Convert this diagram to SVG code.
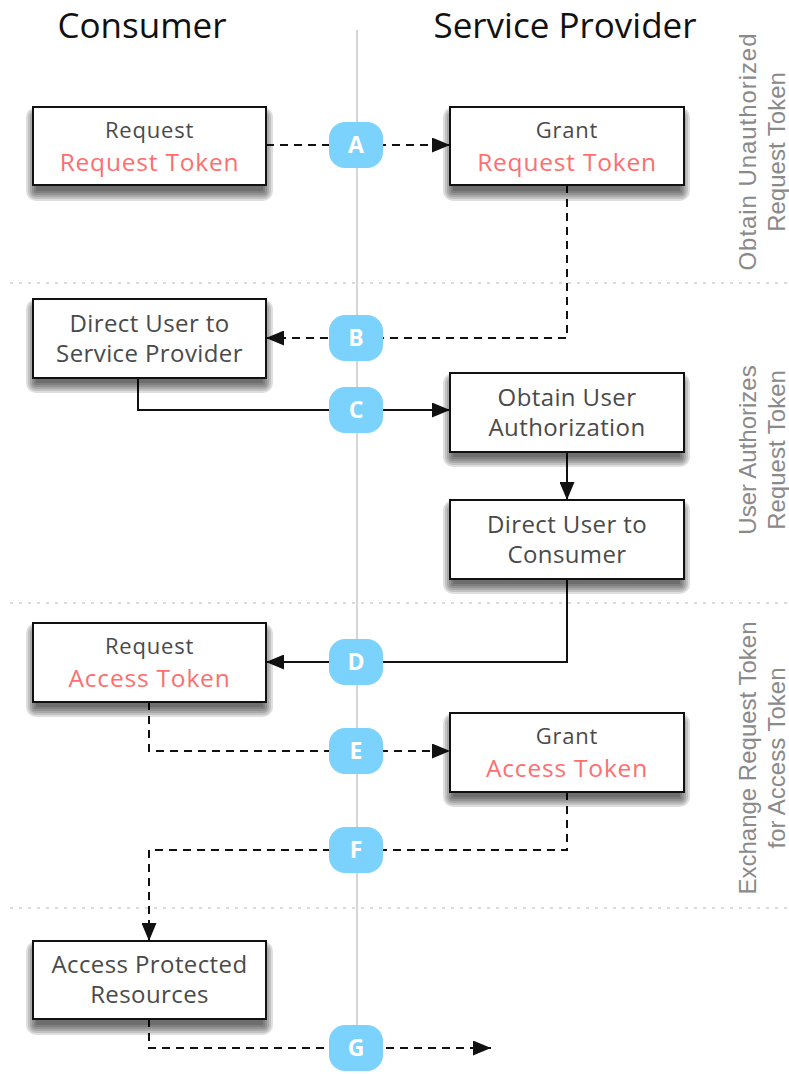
<svg xmlns="http://www.w3.org/2000/svg" xmlns:xlink="http://www.w3.org/1999/xlink" width="789" height="1074" viewBox="0 0 789 1074">
  <style>
    .hdr { font-family: "Open Sans", "Liberation Sans", sans-serif; font-size: 35px; fill: #111; text-anchor: middle; }
    .box { fill: #fff; stroke: #111; stroke-width: 2; }
    .t { font-family: "Open Sans", "Liberation Sans", sans-serif; font-size: 24px; fill: #4a4a4a; text-anchor: middle; letter-spacing: 0.4px; }
    .tg { font-family: "Open Sans", "Liberation Sans", sans-serif; font-size: 22px; fill: #4a4a4a; text-anchor: middle; letter-spacing: 0.8px; }
    .r { font-family: "Open Sans", "Liberation Sans", sans-serif; font-size: 24.5px; fill: #ff6e6e; text-anchor: middle; letter-spacing: 0.8px; }
    .badge { fill: #7bd2fd; }
    .bl { font-family: "Open Sans", "Liberation Sans", sans-serif; font-size: 23px; font-weight: 700; fill: #fff; text-anchor: middle; }
    .side { font-family: "Liberation Sans", Arial, sans-serif; font-size: 24px; fill: #8a8a8a; text-anchor: middle; }
    .sep { stroke: #cfcfcf; stroke-width: 1.5; stroke-dasharray: 3 6; fill: none; }
    .axis { stroke: #c8c8c8; stroke-width: 1.5; fill: none; }
    .solid { stroke: #111; stroke-width: 2; fill: none; marker-end: url(#arrow); }
    .dash { stroke: #111; stroke-width: 2; fill: none; stroke-dasharray: 8 6; marker-end: url(#arrow); }
    .sl { fill: #000; fill-opacity: 0.13; }
  </style>
  <defs>
    <g id="shadow">
      <rect class="sl" x="-7" y="0" width="247" height="94" rx="10"/>
      <rect class="sl" x="-5" y="2" width="243" height="90" rx="8"/>
      <rect class="sl" x="-3" y="4" width="239" height="86" rx="6"/>
      <rect class="sl" x="-1" y="6" width="235" height="82" rx="4"/>
      <rect class="sl" x="1" y="8" width="231" height="78" rx="2"/>
      <rect class="sl" x="3" y="10" width="227" height="74" rx="1"/>
    </g>
    <marker id="arrow" viewBox="0 0 18 15" refX="18" refY="7.5" markerWidth="18" markerHeight="15" markerUnits="userSpaceOnUse" orient="auto">
      <path d="M0,0 L18,7.5 L0,15 z" fill="#111"/>
    </marker>
  </defs>

  <rect x="0" y="0" width="789" height="1074" fill="#fff"/>

  <g id="background">
    <line class="axis" x1="357" y1="30" x2="357" y2="1030"/>
    <line class="sep" x1="10" y1="283" x2="789" y2="283"/>
    <line class="sep" x1="10" y1="603" x2="789" y2="603"/>
    <line class="sep" x1="10" y1="908" x2="789" y2="908"/>
    <text class="hdr" x="142" y="38">Consumer</text>
    <text class="hdr" x="565" y="38">Service Provider</text>
  </g>

  <g id="phase-labels">
    <g transform="translate(0,152) rotate(-90)">
      <text class="side" x="0" y="756" textLength="237">Obtain Unauthorized</text>
      <text class="side" x="0" y="785">Request Token</text>
    </g>
    <g transform="translate(0,450) rotate(-90)">
      <text class="side" x="0" y="756">User Authorizes</text>
      <text class="side" x="0" y="785">Request Token</text>
    </g>
    <g transform="translate(0,758) rotate(-90)">
      <text class="side" x="0" y="756">Exchange Request Token</text>
      <text class="side" x="0" y="785">for Access Token</text>
    </g>
  </g>

  <g id="connectors">
    <path class="dash" d="M266,145 L450,145"/>
    <path class="dash" d="M567,185 L567,338 L266,338"/>
    <path class="solid" d="M138,378 L138,410 L450,410"/>
    <path class="solid" d="M567,452 L567,500"/>
    <path class="solid" d="M567,579 L567,662 L266,662"/>
    <path class="dash" d="M149,702 L149,751 L450,751"/>
    <path class="dash" d="M567,792 L567,850 L149,850 L149,941"/>
    <path class="dash" d="M149,1019 L149,1048 L491,1048"/>
  </g>

  <g id="badges">
    <g id="badge-A"><rect class="badge" x="329" y="122" width="54" height="46" rx="16"/><text class="bl" x="356" y="153">A</text></g>
    <g id="badge-B"><rect class="badge" x="329" y="315" width="54" height="46" rx="16"/><text class="bl" x="356" y="346">B</text></g>
    <g id="badge-C"><rect class="badge" x="329" y="387" width="54" height="46" rx="16"/><text class="bl" x="356" y="418">C</text></g>
    <g id="badge-D"><rect class="badge" x="329" y="639" width="54" height="46" rx="16"/><text class="bl" x="356" y="670">D</text></g>
    <g id="badge-E"><rect class="badge" x="329" y="728" width="54" height="46" rx="16"/><text class="bl" x="356" y="759">E</text></g>
    <g id="badge-F"><rect class="badge" x="329" y="827" width="54" height="46" rx="16"/><text class="bl" x="356" y="858">F</text></g>
    <g id="badge-G"><rect class="badge" x="329" y="1025" width="54" height="46" rx="16"/><text class="bl" x="356" y="1056">G</text></g>
  </g>

  <g id="node-request-request-token">
    <use href="#shadow" xlink:href="#shadow" x="33" y="107"/>
    <rect class="box" x="33" y="107" width="233" height="78"/>
    <text class="tg" x="149.5" y="138">Request</text>
    <text class="r" x="149.5" y="171">Request Token</text>
  </g>
  <g id="node-grant-request-token">
    <use href="#shadow" xlink:href="#shadow" x="450" y="107"/>
    <rect class="box" x="450" y="107" width="234" height="78"/>
    <text class="tg" x="567" y="138">Grant</text>
    <text class="r" x="567" y="171">Request Token</text>
  </g>
  <g id="node-direct-user-to-sp">
    <use href="#shadow" xlink:href="#shadow" x="33" y="299"/>
    <rect class="box" x="33" y="299" width="233" height="79"/>
    <text class="t" x="149.5" y="332">Direct User to</text>
    <text class="t" x="149.5" y="362">Service Provider</text>
  </g>
  <g id="node-obtain-user-authorization">
    <use href="#shadow" xlink:href="#shadow" x="450" y="373"/>
    <rect class="box" x="450" y="373" width="234" height="79"/>
    <text class="t" x="567" y="406">Obtain User</text>
    <text class="t" x="567" y="436">Authorization</text>
  </g>
  <g id="node-direct-user-to-consumer">
    <use href="#shadow" xlink:href="#shadow" x="450" y="500"/>
    <rect class="box" x="450" y="500" width="234" height="79"/>
    <text class="t" x="567" y="533">Direct User to</text>
    <text class="t" x="567" y="563">Consumer</text>
  </g>
  <g id="node-request-access-token">
    <use href="#shadow" xlink:href="#shadow" x="33" y="623"/>
    <rect class="box" x="33" y="623" width="233" height="79"/>
    <text class="tg" x="149.5" y="654">Request</text>
    <text class="r" x="149.5" y="687">Access Token</text>
  </g>
  <g id="node-grant-access-token">
    <use href="#shadow" xlink:href="#shadow" x="450" y="713"/>
    <rect class="box" x="450" y="713" width="234" height="79"/>
    <text class="tg" x="567" y="744">Grant</text>
    <text class="r" x="567" y="777">Access Token</text>
  </g>
  <g id="node-access-protected-resources">
    <use href="#shadow" xlink:href="#shadow" x="33" y="941"/>
    <rect class="box" x="33" y="941" width="233" height="78"/>
    <text class="t" x="149.5" y="973">Access Protected</text>
    <text class="t" x="149.5" y="1003">Resources</text>
  </g>
</svg>
